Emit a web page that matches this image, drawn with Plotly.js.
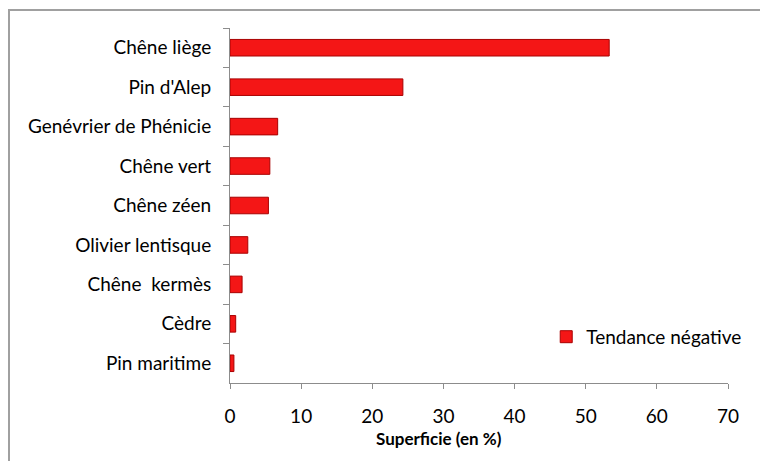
<!DOCTYPE html>
<html>
<head>
<meta charset="utf-8">
<script src="https://cdn.plot.ly/plotly-3.0.1.min.js"></script>
<style>
html,body{margin:0;padding:0;background:#fff;}
#wrap{position:relative;width:760px;height:461px;overflow:hidden;}
#frame{position:absolute;left:8px;top:9px;width:800px;height:500px;border-top:2px solid #a0a0a0;border-left:2px solid #a0a0a0;pointer-events:none;}
#chart{position:absolute;left:0;top:0;width:760px;height:461px;}
</style>
</head>
<body>
<div id="wrap">
<div id="frame"></div>
<div id="chart"></div>
</div>
<script>
const categories = ["Chêne liège", "Pin d'Alep", "Genévrier de Phénicie", "Chêne vert", "Chêne zéen", "Olivier lentisque", "Chêne\u00a0 kermès", "Cèdre", "Pin maritime"];
const values = [53.3, 24.3, 6.7, 5.6, 5.4, 2.5, 1.7, 0.8, 0.55];
const xTicks = [0, 10, 20, 30, 40, 50, 60, 70];
const seriesName = "Tendance négative";
const xTitle = "Superficie (en %)";

const font = "Lato, 'Open Sans', sans-serif";

const trace = {
  type: "bar",
  orientation: "h",
  y: categories,
  x: values,
  name: seriesName,
  showlegend: true,
  width: 0.42,
  marker: {color: "#f41616", line: {color: "#a80000", width: 1}},
  hoverinfo: "x+y"
};

const layout = {
  width: 760, height: 461,
  margin: {l: 230, r: 32, t: 28, b: 78},
  paper_bgcolor: "rgba(0,0,0,0)",
  plot_bgcolor: "rgba(0,0,0,0)",
  font: {family: font, color: "#000", size: 19},
  xaxis: {
    range: [0, 70],
    tickvals: xTicks,
    ticktext: xTicks.map(String),
    showgrid: false, zeroline: false,
    showline: true, linecolor: "#8c8c8c", linewidth: 1,
    ticks: "outside", ticklen: 5, tickcolor: "#8c8c8c",
    tickfont: {size: 19, family: font, color: "#000"},
    ticklabelstandoff: 11,
    fixedrange: true
  },
  yaxis: {
    type: "category",
    autorange: "reversed",
    showgrid: false, zeroline: false,
    showline: true, linecolor: "#8c8c8c", linewidth: 1,
    ticks: "outside", ticklen: 6, tickcolor: "#8c8c8c",
    tickson: "boundaries",
    tickfont: {size: 19, family: font, color: "#000"},
    ticklabelstandoff: 14,
    fixedrange: true
  },
  legend: {
    x: 0.635, y: 0.13, xanchor: "left", yanchor: "middle",
    bgcolor: "rgba(0,0,0,0)",
    font: {size: 19, family: font, color: "#000"},
    itemwidth: 30
  },
  annotations: [{
    text: "<b>" + xTitle + "</b>",
    xref: "paper", yref: "paper",
    x: 0.42, y: 0, yshift: -55,
    xanchor: "center", yanchor: "middle",
    showarrow: false,
    font: {size: 17, family: font, color: "#000"}
  }]
};

Plotly.newPlot("chart", [trace], layout, {displayModeBar: false, staticPlot: true});
</script>
</body>
</html>
